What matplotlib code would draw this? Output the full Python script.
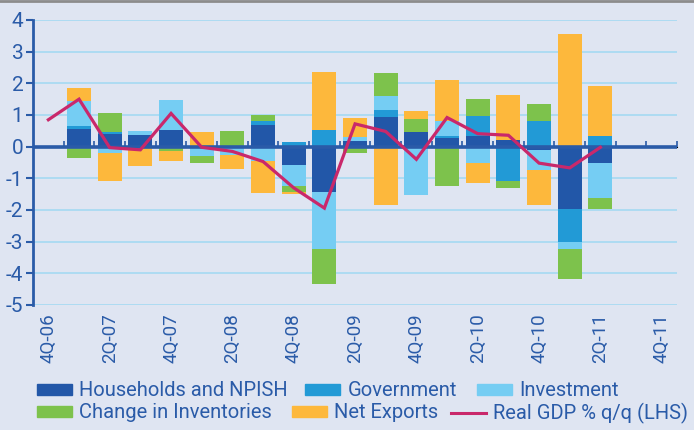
import numpy as np
import matplotlib
matplotlib.use("Agg")
import matplotlib.pyplot as plt
from matplotlib.patches import Patch
from matplotlib.lines import Line2D

plt.rcParams["font.family"] = ["Roboto", "DejaVu Sans"]
plt.rcParams["axes.unicode_minus"] = False

# quarters on the axis, 4Q-06 .. 4Q-11
quarters = ["4Q-06", "1Q-07", "2Q-07", "3Q-07", "4Q-07", "1Q-08", "2Q-08", "3Q-08",
            "4Q-08", "1Q-09", "2Q-09", "3Q-09", "4Q-09", "1Q-10", "2Q-10", "3Q-10",
            "4Q-10", "1Q-11", "2Q-11", "3Q-11", "4Q-11"]

# contributions (pp), bars start at 1Q-07 and end at 2Q-11
households = [0.57, 0.41, 0.36, 0.54, 0.00, -0.05, 0.69, -0.59, -1.42,
              0.19, 0.95, 0.47, 0.28, 0.35, 0.22, -0.09, -1.96, -0.51]
government = [0.07, 0.06, 0.00, 0.00, 0.00, 0.00, 0.13, 0.16, 0.54,
              0.00, 0.22, 0.00, 0.07, 0.63, -1.07, 0.82, -1.04, 0.35]
investment = [0.79, -0.19, 0.14, 0.94, -0.30, -0.20, -0.45, -0.64, -1.80,
              0.10, 0.44, -1.52, 0.45, -0.52, 0.00, -0.64, -0.22, -1.10]
inventories = [-0.37, 0.60, 0.00, -0.15, -0.22, 0.50, 0.19, -0.19, -1.13,
               -0.20, 0.73, 0.41, -1.23, 0.54, -0.22, 0.54, -0.97, -0.35]
net_exports = [0.43, -0.88, -0.62, -0.31, 0.47, -0.45, -1.02, -0.08, 1.83,
               0.63, -1.85, 0.26, 1.32, -0.62, 1.42, -1.12, 3.57, 1.58]

# real GDP % q/q, 4Q-06 .. 2Q-11
gdp = [0.85, 1.50, -0.03, -0.10, 1.05, -0.02, -0.15, -0.47, -1.30, -1.94,
       0.72, 0.48, -0.40, 0.92, 0.41, 0.36, -0.52, -0.67, -0.02]

series = [
    ("Households and NPISH", households, "#2257a8"),
    ("Government", government, "#229ad6"),
    ("Investment", investment, "#75cdf3"),
    ("Change in Inventories", inventories, "#7dc24c"),
    ("Net Exports", net_exports, "#fdb83c"),
]
gdp_label = "Real GDP % q/q (LHS)"
gdp_color = "#c9286b"
text_color = "#2a5ba8"
axis_color = "#2a5ba8"
bg = "#dfe5f2"

fig = plt.figure(figsize=(6.94, 4.30), dpi=100, facecolor=bg)
ax = fig.add_axes([0.0476, 0.2907, 0.928, 0.6628], facecolor=bg)

x_all = np.arange(len(quarters))
x_bar = x_all[1:1 + len(households)]

# stack positives up and negatives down
pos = np.zeros(len(x_bar))
neg = np.zeros(len(x_bar))
for name, vals, col in series:
    v = np.array(vals)
    bottom = np.where(v >= 0, pos, neg)
    ax.bar(x_bar, v, 0.78, bottom=bottom, color=col, linewidth=0, zorder=2)
    pos = pos + np.where(v >= 0, v, 0)
    neg = neg + np.where(v < 0, v, 0)

# zero line sits on top of the bars
ax.axhline(0, color=axis_color, lw=2.6, zorder=3)

ax.plot(x_all[:len(gdp)], gdp, color=gdp_color, lw=2.3, zorder=4,
        solid_joinstyle="miter")

ax.set_xlim(-0.5, len(quarters) - 0.5)
ax.set_ylim(-5, 4)
ax.set_yticks(range(-5, 5))
ax.grid(axis="y", color="#a9dbf3", lw=1.3, zorder=0)
ax.set_axisbelow(True)

for s in ["top", "right", "bottom"]:
    ax.spines[s].set_visible(False)
ax.spines["left"].set_color(axis_color)
ax.spines["left"].set_linewidth(2)
ax.tick_params(axis="y", colors=axis_color, length=5, width=1.5, labelsize=15,
               pad=2, labelcolor=text_color)

# x labels at bottom, every second quarter
ax.set_xticks(x_all[::2])
ax.set_xticklabels(quarters[::2], rotation=90, fontsize=13.5, color=text_color)
ax.tick_params(axis="x", length=0, pad=6)

# tick marks on the zero line at category boundaries
zero = ax.secondary_xaxis(5 / 9)
zero.spines["bottom"].set_color(axis_color)
zero.spines["bottom"].set_linewidth(2.2)
zero.set_xticks(np.arange(len(quarters)) + 0.5)
zero.set_xticklabels([])
zero.tick_params(axis="x", direction="out", length=4, width=1.2,
                 colors=axis_color)

# legend: two free-flowing rows, each entry placed where the reference has it
handles = [Patch(color=c, label=n) for n, _, c in series]
handles.append(Line2D([], [], color=gdp_color, lw=2.2, label=gdp_label))
W, H = 694, 430
spots = [(37, 391), (305, 391), (477, 391), (37, 413), (292, 413), (451, 413)]
for h, (px, py) in zip(handles, spots):
    lg = fig.legend(handles=[h], loc="center left",
                    bbox_to_anchor=(px / W, 1 - py / H), frameon=False,
                    fontsize=14.5, handlelength=1.75, handleheight=0.45,
                    handletextpad=0.35, borderpad=0, borderaxespad=0)
    lg.get_texts()[0].set_color(text_color)

fig.add_artist(Line2D([0, 1], [0.998, 0.998], color="#8c8c8c", lw=2,
                      transform=fig.transFigure))

fig.savefig("out.png", dpi=100, facecolor=bg)
